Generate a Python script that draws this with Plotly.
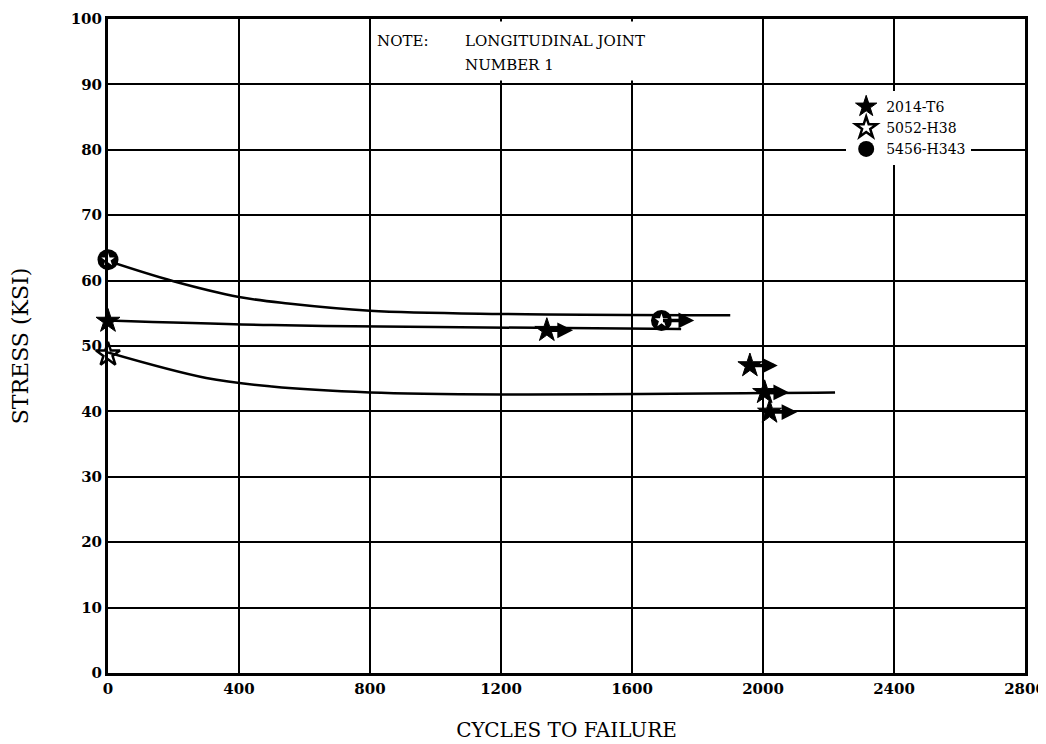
import plotly.graph_objects as go

# test points
t6_cycles = [0, 1340, 1960, 2005, 2020]
t6_stress = [53.8, 52.4, 47.0, 42.9, 39.9]
h38_cycles = [0]
h38_stress = [48.7]
h343_cycles = [0, 1690]
h343_stress = [63.2, 53.9]

# run-outs (did not fail) -> arrow start/end
runout_cycles = [1340, 1690, 1960, 2005, 2020]
runout_end = [1420, 1790, 2045, 2080, 2105]
runout_stress = [52.4, 53.9, 47.0, 42.9, 39.9]

# faired curves
curve_a_x = [0, 200, 400, 550, 800, 1200, 1900]
curve_a_y = [63.0, 59.9, 57.5, 56.5, 55.4, 54.9, 54.7]
curve_b_x = [0, 500, 1000, 1750]
curve_b_y = [53.9, 53.2, 52.9, 52.6]
curve_c_x = [0, 300, 500, 800, 1200, 2220]
curve_c_y = [49.0, 45.1, 43.8, 42.9, 42.6, 42.9]

x_ticks = [0, 400, 800, 1200, 1600, 2000, 2400, 2800]
y_ticks = [0, 10, 20, 30, 40, 50, 60, 70, 80, 90, 100]

fnt = "DejaVu Serif"

fig = go.Figure()

for cx, cy in [(curve_a_x, curve_a_y), (curve_b_x, curve_b_y), (curve_c_x, curve_c_y)]:
    fig.add_trace(go.Scatter(x=cx, y=cy, mode="lines", showlegend=False,
                             line=dict(color="black", width=2.5, shape="spline", smoothing=1.0),
                             hoverinfo="skip"))

fig.add_trace(go.Scatter(x=t6_cycles, y=t6_stress, mode="markers", name="2014-T6",
                         cliponaxis=False,
                         marker=dict(symbol="star", size=18, color="black",
                                     line=dict(color="black", width=1))))
fig.add_trace(go.Scatter(x=h38_cycles, y=h38_stress, mode="markers", name="5052-H38",
                         cliponaxis=False,
                         marker=dict(symbol="star-open", size=18, color="black",
                                     line=dict(color="black", width=2.5))))
fig.add_trace(go.Scatter(x=h343_cycles, y=h343_stress, mode="markers", name="5456-H343",
                         legendgroup="h343", cliponaxis=False,
                         marker=dict(symbol="circle", size=21, color="black")))
fig.add_trace(go.Scatter(x=h343_cycles, y=h343_stress, mode="markers", showlegend=False,
                         legendgroup="h343", cliponaxis=False,
                         marker=dict(symbol="star", size=10, color="white")))

for x0, x1, y in zip(runout_cycles, runout_end, runout_stress):
    fig.add_annotation(x=x1, y=y, ax=x0, ay=y, xref="x", yref="y", axref="x", ayref="y",
                       text="", showarrow=True, arrowhead=2, arrowsize=0.9, arrowwidth=3.5,
                       arrowcolor="black")

# white box behind the note
fig.add_shape(type="rect", x0=815, x1=1690, y0=90.6, y1=99.6, xref="x", yref="y",
              fillcolor="white", line=dict(width=0), layer="between")

fig.add_annotation(x=815, y=96.6, xref="x", yref="y", xanchor="left", yanchor="middle",
                   text="NOTE:", showarrow=False,
                   font=dict(family=fnt, size=15, color="black"))
fig.add_annotation(x=1085, y=96.6, xref="x", yref="y", xanchor="left", yanchor="middle",
                   text="LONGITUDINAL JOINT", showarrow=False,
                   font=dict(family=fnt, size=15, color="black"))
fig.add_annotation(x=1085, y=92.9, xref="x", yref="y", xanchor="left", yanchor="middle",
                   text="NUMBER 1", showarrow=False,
                   font=dict(family=fnt, size=15, color="black"))

fig.update_layout(
    width=1038, height=736,
    margin=dict(l=100, r=21, t=11, b=71),
    paper_bgcolor="white", plot_bgcolor="white",
    font=dict(family=fnt, size=14, color="black"),
    legend=dict(x=0.805, y=0.89, xanchor="left", yanchor="top", bgcolor="white",
                font=dict(family=fnt, size=14), itemsizing="trace",
                tracegroupgap=0, itemwidth=30),
    xaxis=dict(range=[0, 2800], tickvals=x_ticks, showgrid=True, gridcolor="black",
               gridwidth=1.5, showline=True, linecolor="black", linewidth=3, mirror=True,
               zeroline=False, ticks="", automargin=False,
               tickfont=dict(family=fnt, size=15, weight="bold"),
               title=dict(text="CYCLES TO FAILURE", font=dict(family=fnt, size=20), standoff=26)),
    yaxis=dict(range=[0, 100], tickvals=y_ticks, showgrid=True, gridcolor="black",
               gridwidth=1.5, showline=True, linecolor="black", linewidth=3, mirror=True,
               zeroline=False, ticks="", automargin=False,
               tickfont=dict(family=fnt, size=15, weight="bold"),
               title=dict(text="STRESS (KSI)", font=dict(family=fnt, size=22), standoff=42)),
)

fig.write_html("out.html")
